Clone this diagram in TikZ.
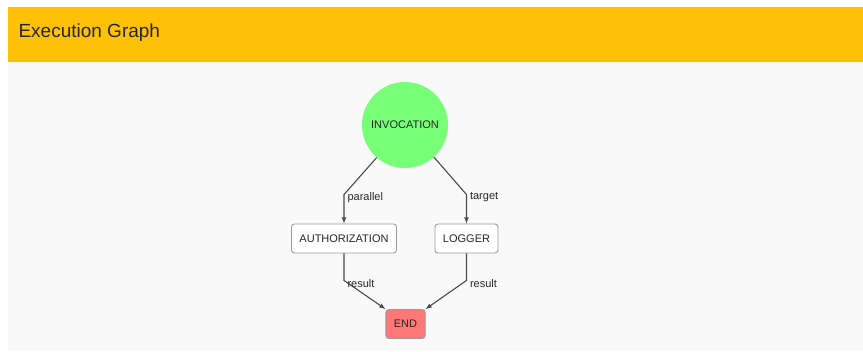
\documentclass[tikz,border=0pt]{standalone}
\usepackage{fontspec}
\setmainfont{Liberation Sans}
\usepackage{xcolor}
\usetikzlibrary{arrows}
\definecolor{amber}{HTML}{FFC107}
\definecolor{panel}{HTML}{F9F9F9}
\definecolor{invgreen}{HTML}{77FF77}
\definecolor{endred}{HTML}{FF7777}
\definecolor{edgegray}{HTML}{4A4A4A}
\definecolor{boxgray}{HTML}{9A9A9A}
\definecolor{txt}{HTML}{262626}

\begin{document}
\begin{tikzpicture}[x=1pt, y=-1pt,
    task/.style={draw=boxgray, fill=white, rounded corners=3pt, line width=0.9pt,
      minimum height=29pt, inner xsep=8pt, text=txt, font=\fontsize{11}{13}\selectfont},
    flow/.style={draw=edgegray, line width=1.1pt, -latex},
    lbl/.style={right, inner sep=3pt, yshift=-3pt, text=txt, font=\fontsize{11}{13}\selectfont}]

    \useasboundingbox (0, 0) rectangle (863, 352);

    % page and header bar
    \fill [panel] (8, 62) rectangle (863, 351);
    \fill [amber] (8, 7) rectangle (863, 62);
    \node [right, text=black!85, font=\fontsize{19}{22}\selectfont]
      (title) at (15, 33) {Execution Graph};

    % nodes
    \node [circle, fill=invgreen, minimum size=86pt, text=txt,
      font=\fontsize{11}{13}\selectfont] (inv) at (405, 125) {INVOCATION};
    \node [task] (auth) at (344, 238.5) {AUTHORIZATION};
    \node [task] (log) at (466.5, 238.5) {LOGGER};
    \node [task, fill=endred] (fin) at (405.5, 324) {END};

    % edges
    \draw [flow] (inv.229) -- ([yshift=29pt]auth.north)
      node [lbl] {parallel} -- (auth.north);
    \draw [flow] (inv.312) -- ([yshift=29pt]log.north)
      node [lbl] {target} -- (log.north);
    \draw [flow] (auth.south) -- ([yshift=-27pt]auth.south)
      node [lbl] {result} -- (fin.north west);
    \draw [flow] (log.south) -- ([yshift=-27pt]log.south)
      node [lbl] {result} -- (fin.north east);

\end{tikzpicture}
\end{document}
